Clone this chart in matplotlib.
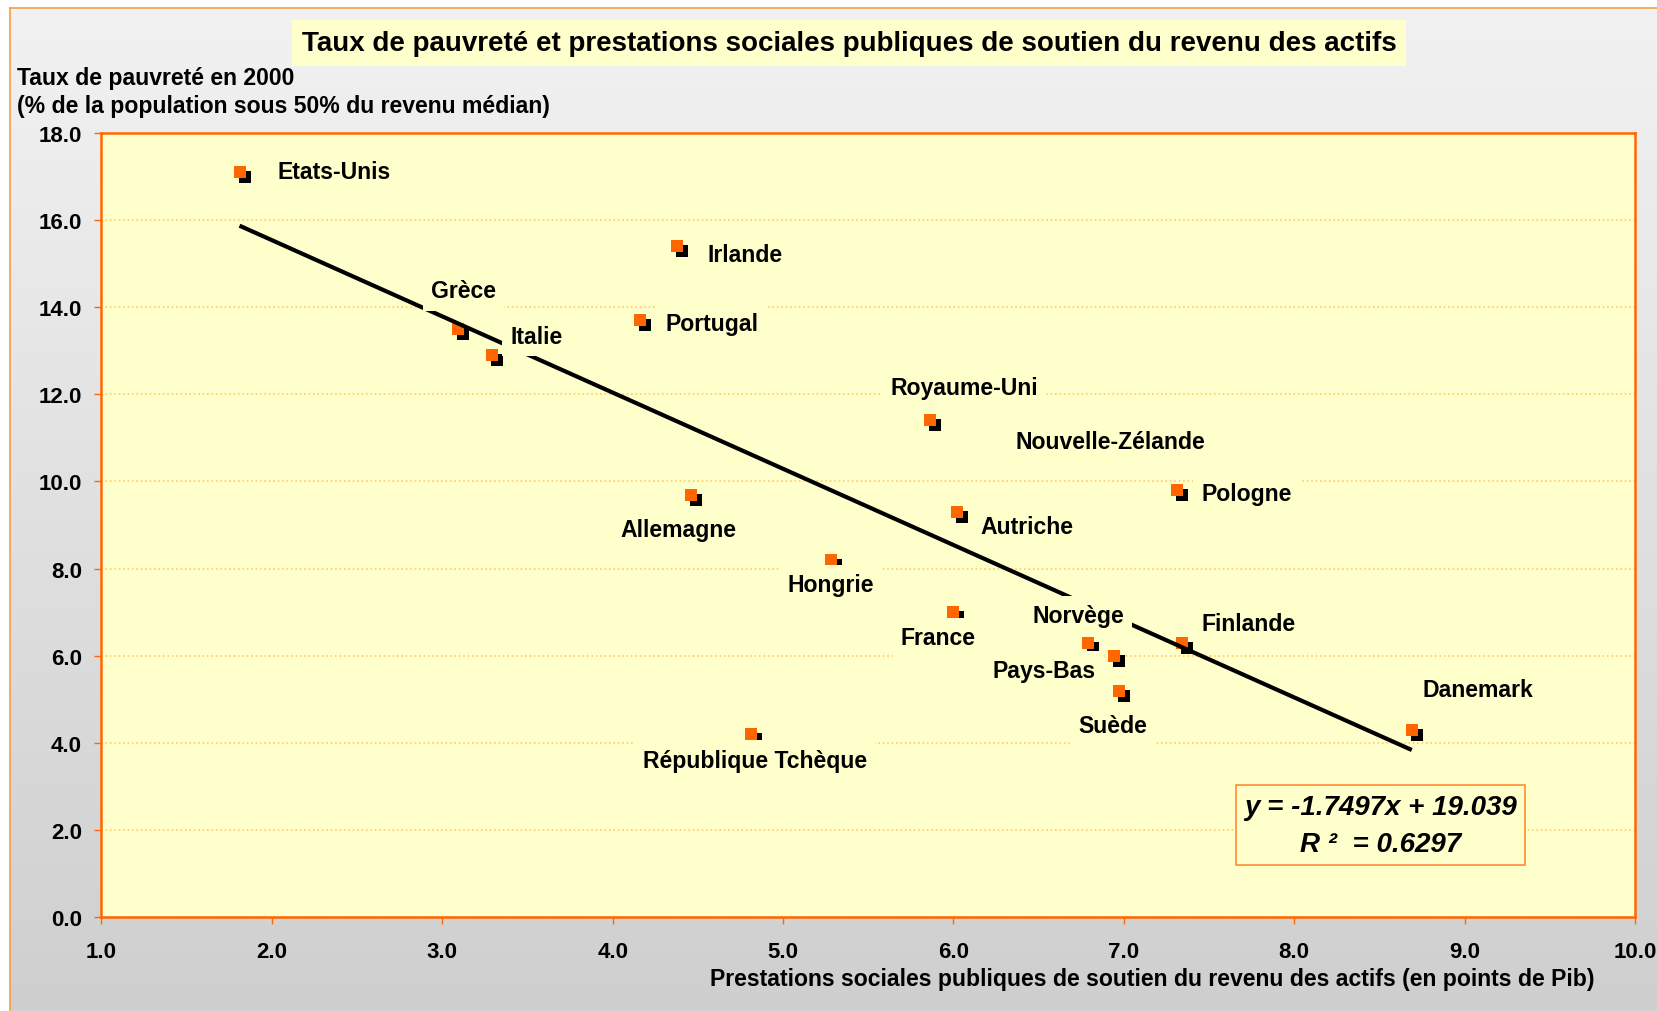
import matplotlib
matplotlib.use("Agg")
import matplotlib.pyplot as plt
import matplotlib.transforms as mtransforms
import numpy as np

plt.rcParams['font.family'] = ['Liberation Sans', 'DejaVu Sans']
plt.rcParams['font.weight'] = 'bold'

# data
countries = ['Etats-Unis', 'Irlande', 'Portugal', 'Grèce', 'Italie', 'Royaume-Uni',
             'Pologne', 'Allemagne', 'Autriche', 'Hongrie', 'France', 'Norvège',
             'Finlande', 'Pays-Bas', 'Suède', 'Danemark', 'République Tchèque']
prestations = [1.81, 4.38, 4.16, 3.09, 3.29, 5.86,
               7.31, 4.46, 6.02, 5.28, 6.00, 6.79,
               7.34, 6.94, 6.97, 8.69, 4.81]
pauvrete = [17.1, 15.4, 13.7, 13.5, 12.9, 11.4,
            9.8, 9.7, 9.3, 8.2, 7.0, 6.3,
            6.3, 6.0, 5.2, 4.3, 4.2]
slope = -1.7497
intercept = 19.039
r2 = 0.6297

# label offsets in pixels from the marker
label_offsets = [(95, 1), (68, -8), (72, -3), (6, 38), (45, 19), (35, 33),
                 (70, -3), (-13, -35), (70, -15), (0, -25), (-15, -25), (-10, 27),
                 (67, 19), (-70, -15), (-6, -35), (66, 40), (4, -26)]

ORANGE = '#FF6600'
PLOT_BG = '#FFFFCC'
FS = 16.6

fig = plt.figure(figsize=(16.58, 10.12), dpi=100)

# background with vertical gradient and thin orange border
bg = fig.add_axes([10 / 1658, 0, 1 - 10 / 1658, 1 - 9 / 1012], zorder=-10)
grad = np.linspace(0, 1, 256).reshape(-1, 1)
top_c = np.array([0xF2, 0xF2, 0xF2]) / 255
bot_c = np.array([0xCF, 0xCF, 0xCF]) / 255
img = top_c[None, None, :] * (1 - grad[:, :, None]) + bot_c[None, None, :] * grad[:, :, None]
bg.imshow(img, aspect='auto', extent=[0, 1, 0, 1], origin='upper')
bg.set_xticks([])
bg.set_yticks([])
for s in ['right', 'bottom']:
    bg.spines[s].set_visible(False)
for s in ['left', 'top']:
    bg.spines[s].set_color('#F5A040')
    bg.spines[s].set_linewidth(1.2)

ax = fig.add_axes([101.5 / 1658, 94 / 1012, (1635 - 101.5) / 1658, (918 - 134) / 1012])
ax.set_facecolor(PLOT_BG)
ax.set_xlim(1.0, 10.0)
ax.set_ylim(0.0, 18.0)
ax.set_xticks(np.arange(1, 11, 1.0))
ax.set_yticks(np.arange(0, 19, 2.0))
ax.set_xticklabels([f'{v:.1f}' for v in np.arange(1, 11, 1.0)])
ax.set_yticklabels([f'{v:.1f}' for v in np.arange(0, 19, 2.0)])
ax.tick_params(axis='both', colors=ORANGE, labelcolor='black', labelsize=16,
               length=5, width=1, direction='out')
ax.tick_params(axis='x', pad=12)
ax.tick_params(axis='y', pad=9)
for lab in ax.get_xticklabels() + ax.get_yticklabels():
    lab.set_fontweight('bold')
for s in ax.spines.values():
    s.set_color(ORANGE)
    s.set_linewidth(1.8)
ax.yaxis.grid(True, color='#FFCC66', linestyle=':', linewidth=1.2)
ax.set_axisbelow(True)

# markers with black shadow
shadow = mtransforms.offset_copy(ax.transData, fig=fig, x=5, y=-5, units='dots')
ax.scatter(prestations, pauvrete, marker='s', s=85, color='black', transform=shadow,
           zorder=2, linewidths=0)
ax.scatter(prestations, pauvrete, marker='s', s=85, color=ORANGE, zorder=2.5, linewidths=0)

# trend line
xs = np.array([min(prestations), max(prestations)])
ax.plot(xs, slope * xs + intercept, color='black', lw=3, zorder=3, solid_capstyle='butt')

for name, x, y, off in zip(countries, prestations, pauvrete, label_offsets):
    ax.annotate(name, (x, y), xytext=off, textcoords='offset pixels',
                ha='center', va='center', fontsize=FS, fontweight='bold',
                bbox=dict(boxstyle='square,pad=0.35', fc=PLOT_BG, ec='none'), zorder=4)

ax.text(0.658, 0.607, 'Nouvelle-Zélande', transform=ax.transAxes, ha='center', va='center',
        fontsize=FS, fontweight='bold',
        bbox=dict(boxstyle='square,pad=0.35', fc=PLOT_BG, ec='none'), zorder=4)

eq = f'y = {slope:.4f}x + {intercept:.3f}\nR ²  = {r2:.4f}'
ax.text(0.834, 0.117, eq, transform=ax.transAxes, ha='center', va='center',
        fontsize=20, fontweight='bold', fontstyle='italic', linespacing=1.55,
        bbox=dict(boxstyle='square,pad=0.3', fc=PLOT_BG, ec='#FF8C33', lw=1.2), zorder=5)

fig.text(849 / 1658, 1 - 44 / 1012,
         'Taux de pauvreté et prestations sociales publiques de soutien du revenu des actifs',
         ha='center', va='center', fontsize=20, fontweight='bold',
         bbox=dict(boxstyle='square,pad=0.35', fc=PLOT_BG, ec='none'))

fig.text(17 / 1658, 1 - 78 / 1012, 'Taux de pauvreté en 2000',
         ha='left', va='center', fontsize=FS, fontweight='bold')
fig.text(17 / 1658, 1 - 107 / 1012, '(% de la population sous 50% du revenu médian)',
         ha='left', va='center', fontsize=FS, fontweight='bold')
fig.text(1595 / 1658, 1 - 980 / 1012,
         'Prestations sociales publiques de soutien du revenu des actifs (en points de Pib)',
         ha='right', va='center', fontsize=FS, fontweight='bold')

fig.savefig('out.png', dpi=100)
